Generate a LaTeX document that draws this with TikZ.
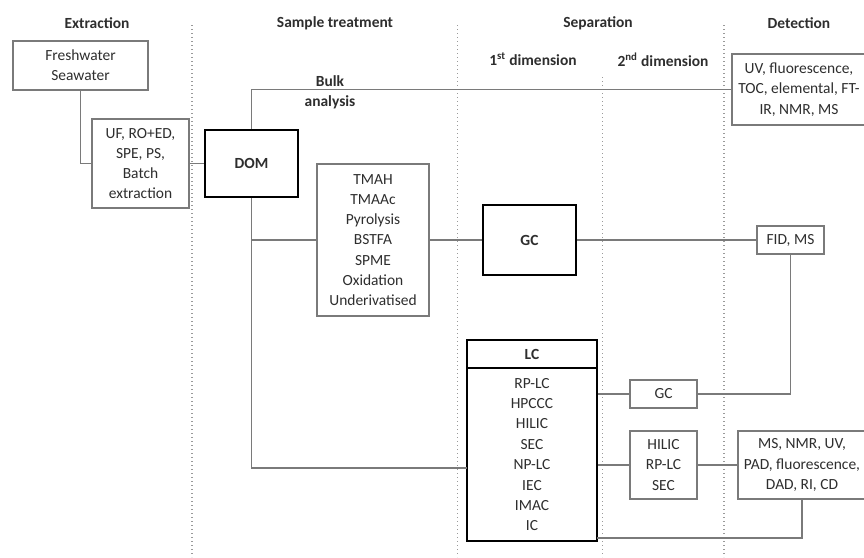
\documentclass[tikz,border=0pt]{standalone}
\usepackage{fontspec}
\setmainfont{Carlito}
\definecolor{txt}{HTML}{2E2E2E}
\definecolor{ln}{HTML}{7A7A7A}
\definecolor{dt}{HTML}{9A9A9A}
\begin{document}
\begin{tikzpicture}[x=0.75pt,y=-0.75pt,
  every node/.style={font=\fontsize{11.6}{15.2}\selectfont, text=txt},
  box/.style={draw=ln, line width=1pt, fill=white, inner sep=0pt, align=center},
  bbox/.style={draw=black, line width=2pt, fill=white, inner sep=0pt, align=center, font=\fontsize{11.6}{15.2}\selectfont\bfseries},
  wh/.style 2 args={minimum width={#1*0.75pt}, minimum height={#2*0.75pt}},
  conn/.style={draw=ln, line width=1pt},
  sep/.style={draw=dt, line width=1pt, dotted},
  head/.style={font=\fontsize{11.6}{13}\selectfont\bfseries}]
\useasboundingbox (0,0) rectangle (864,557);
% separators
\draw[sep] (192,25) -- (192,557);
\draw[sep] (457.5,25) -- (457.5,557);
\draw[sep] (602.5,77) -- (602.5,557);
\draw[sep] (724,25) -- (724,557);
% headings
\node[head] (hext) at (97,23) {Extraction};
\node[head] (hsam) at (335,23) {Sample treatment};
\node[head] (hsep) at (598,23) {Separation};
\node[head] (hdet) at (799,23) {Detection};
\node[head] (hd1) at (533,59) {1\textsuperscript{st} dimension};
\node[head] (hd2) at (663,60) {2\textsuperscript{nd} dimension};
\coordinate (lcin) at (467,468);
\coordinate (lcout) at (597,538);
% nodes
\node[box, wh={135}{49}] (fresh) at (80.5,65.5) {Freshwater\\Seawater};
\node[box, wh={97}{89}] (uf) at (140.5,163.5) {UF, RO+ED,\\SPE, PS,\\Batch\\extraction};
\node[bbox, wh={93}{67}] (dom) at (251.5,163.5) {DOM};
\node[box, wh={134}{71}] (det1) at (799,89.5) {UV, fluorescence,\\TOC, elemental, FT-\\IR, NMR, MS};
\node[box, wh={112}{152}] (tm) at (373,240) {TMAH\\TMAAc\\Pyrolysis\\BSTFA\\SPME\\Oxidation\\Underivatised};
\node[bbox, wh={93}{70}] (gc) at (529.5,240) {GC};
\node[box, wh={67}{28}] (fid) at (790.5,240) {FID, MS};
\node[bbox, wh={130}{28}] (lch) at (532,354) {LC};
\node[bbox, wh={130}{173}, font=\fontsize{11.6}{15.3}\selectfont] (lcl) at (532,454.5) {RP-LC\\HPCCC\\HILIC\\SEC\\NP-LC\\IEC\\IMAC\\IC};
\node[box, wh={67}{28}] (gc2) at (663.5,394) {GC};
\node[box, wh={67}{68}] (hil) at (663.5,465) {HILIC\\RP-LC\\SEC};
\node[box, wh={128}{68}] (ms) at (802,465) {MS, NMR, UV,\\PAD, fluorescence,\\DAD, RI, CD};
% connectors
\path[conn] (fresh.south) |- (uf.west);
\path[conn] (uf.east) -- (dom.west);
\path[conn] (dom.north) |- (det1.west);
\path[conn] (dom.south) |- (tm.west);
\path[conn] (dom.south) |- (lcin);
\path[conn] (tm.east) -- (gc.west);
\path[conn] (gc.east) -- (fid.west);
\path[conn] (fid.south) |- (gc2.east);
\path[conn] (gc2.west -| lcl.east) -- (gc2.west);
\path[conn] (hil.west -| lcl.east) -- (hil.west);
\path[conn] (hil.east) -- (ms.west);
\path[conn] (ms.south) |- (lcout);
\node[align=center] (bulk) at (330,92) {\bfseries Bulk\\\bfseries analysis};
\end{tikzpicture}
\end{document}
